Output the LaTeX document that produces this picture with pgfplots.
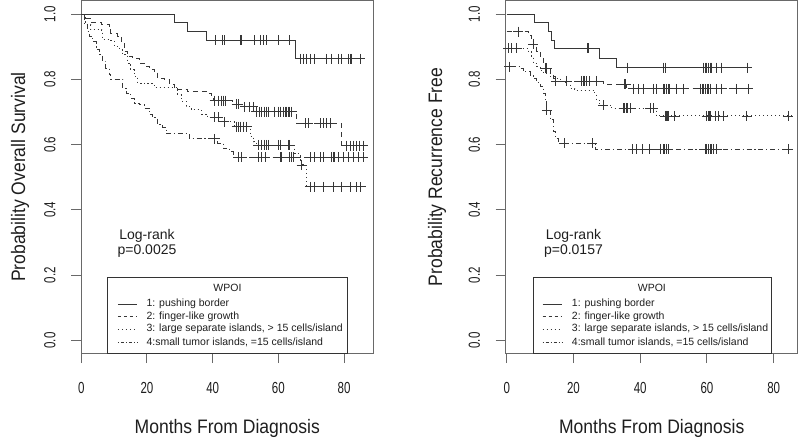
\documentclass[border=0pt]{standalone}
\usepackage{fontspec}
\setmainfont{Liberation Sans}
\newfontfamily\tickfont[FakeStretch=0.72]{Liberation Sans}
\newfontfamily\labfont[FakeStretch=0.9]{Liberation Sans}
\usepackage{pgfplots}
\pgfplotsset{compat=1.18}
\definecolor{ln}{RGB}{55,55,55}
\definecolor{bx}{RGB}{105,105,105}
\definecolor{tx}{RGB}{30,30,30}
\tikzset{
  lt1/.style={ln, line width=0.9pt, solid},
  lt2/.style={ln, line width=0.9pt, dash pattern=on 5pt off 4pt},
  lt3/.style={ln, line width=0.9pt, dash pattern=on 1.2pt off 2.8pt},
  lt4/.style={ln, line width=0.9pt, dash pattern=on 1.2pt off 2.8pt on 5pt off 2.8pt},
  cens/.style={only marks, mark=+, mark size=5pt, mark options={solid, line width=0.8pt, ln}},
}
\pgfplotsset{
  kmax/.style={
    scale only axis, width=292pt, height=352pt,
    ymin=-0.038, ymax=1.04,
    xtick={0,20,40,60,80}, ytick={0,0.2,0.4,0.6,0.8,1.0},
    xtick pos=bottom, ytick pos=left,
    tick align=outside, major tick length=10pt,
    axis line style={bx, line width=1pt},
    every tick/.style={bx, line width=1pt},
    /pgf/number format/assume math mode=true,
    tick label style={font=\tickfont\fontsize{16}{16}\selectfont, text=tx, inner sep=0pt},
    xticklabel shift=19pt,
    yticklabel shift=15.5pt,
    yticklabel style={rotate=90, anchor=south},
    yticklabel={\pgfmathprintnumber[fixed,fixed zerofill,precision=1]{\tick}},
    every axis x label/.style={at={(axis description cs:0.5,-0.213)}, anchor=center, font=\labfont\fontsize{19.5}{19.5}\selectfont, text=tx},
    every axis y label/.style={rotate=90, anchor=center, font=\labfont\fontsize{19.5}{19.5}\selectfont, text=tx},
    xlabel={Months From Diagnosis},
  }
}
\begin{document}
\begin{tikzpicture}[x=1pt,y=1pt]
\useasboundingbox (0,0) rectangle (800,439);
% ---------------- left panel ----------------
\begin{axis}[kmax, at={(81.3pt,86pt)}, anchor=south west, xmin=0, xmax=88.9,
  ylabel={Probability Overall Survival},
  every axis y label/.append style={at={(axis description cs:-0.21,0.5)}}]
\addplot[lt1, const plot] coordinates {(0,1.0) (28.3,0.974) (32.2,0.948) (38.1,0.920) (65.3,0.863) (85.4,0.863)};
\addplot[cens] coordinates {(40.9,0.920) (43.0,0.920) (43.7,0.920) (48.3,0.920) (48.6,0.920) (52.8,0.920) (54.4,0.920) (55.4,0.920) (56.4,0.920) (59.9,0.920) (63.5,0.920)
 (66.6,0.863) (67.6,0.863) (68.6,0.863) (69.6,0.863) (71.1,0.863) (74.7,0.863) (76.2,0.863) (78.2,0.863) (79.2,0.863) (81.3,0.863) (81.8,0.863) (82.3,0.863) (84.9,0.863)};
\addplot[lt2, const plot] coordinates {(0,1) (0.9,0.988) (2.9,0.975) (6,0.968) (8.5,0.957) (9,0.942) (11.1,0.932) (12.1,0.916) (13.1,0.885) (14.1,0.870) (15.6,0.865) (17.7,0.850) (19.2,0.840) (20.7,0.830) (22.2,0.824) (23.3,0.804) (25.3,0.799) (26.8,0.784) (28.3,0.774) (29.4,0.768) (32.4,0.763) (38.1,0.757) (39.6,0.742) (40.1,0.735) (46,0.724) (48.8,0.716) (52.8,0.701) (65.5,0.665) (79.1,0.597) (86.9,0.597)};
\addplot[cens] coordinates {(40.6,0.735) (41.7,0.735) (42.7,0.735) (43.4,0.735) (44.0,0.735) (47.3,0.724) (47.8,0.724) (49.8,0.716) (51.3,0.716) (52.3,0.716)
 (53.3,0.701) (54.3,0.701) (54.8,0.701) (55.8,0.701) (56.4,0.701) (56.9,0.701) (58.9,0.701) (59.9,0.701) (60.5,0.701) (61.5,0.701) (62.0,0.701) (62.5,0.701) (63.0,0.701) (63.5,0.701) (64.0,0.701)
 (68.1,0.665) (69.1,0.665) (72.7,0.665) (73.7,0.665) (74.7,0.665) (75.7,0.665)
 (80.8,0.597) (81.8,0.597) (82.8,0.597) (83.8,0.597) (84.8,0.597) (85.9,0.597)};
\addplot[lt3, const plot] coordinates {(0,1) (1.4,0.967) (2.9,0.952) (6.2,0.947) (6.5,0.921) (9.0,0.918) (10.1,0.901) (11.6,0.891) (12.6,0.875) (14.1,0.850) (15.1,0.829) (16.2,0.809) (17.2,0.789) (19.2,0.786) (22.2,0.774) (29.4,0.753) (30.4,0.733) (31.9,0.717) (33.4,0.707) (36.5,0.694) (38.5,0.684) (43.0,0.670) (46.5,0.655) (51.5,0.624) (52.5,0.609) (53.3,0.599) (65.0,0.573) (66.6,0.553) (67.1,0.538) (68.5,0.471) (86.4,0.471)};
\addplot[cens] coordinates {(40.6,0.684) (41.7,0.684) (43.5,0.670) (47.3,0.655) (47.8,0.655) (48.3,0.655) (49.3,0.655) (50.3,0.655)
 (53.8,0.599) (54.8,0.599) (55.8,0.599) (56.4,0.599) (56.9,0.599) (60.0,0.599) (60.5,0.599) (63.0,0.599) (63.5,0.599)
 (67.1,0.538) (69.6,0.471) (71.1,0.471) (73.7,0.471) (76.7,0.471) (79.3,0.471) (81.8,0.471) (83.8,0.471) (84.9,0.471)};
\addplot[lt4, const plot] coordinates {(0,1) (0.9,0.972) (1.9,0.947) (2.4,0.932) (3.4,0.916) (4.5,0.891) (5.5,0.875) (6.5,0.855) (7.5,0.834) (8.5,0.814) (9.0,0.801) (12.6,0.773) (13.6,0.758) (15.1,0.743) (16.2,0.727) (17.7,0.722) (19.2,0.712) (20.7,0.692) (21.7,0.682) (23.3,0.661) (24.8,0.653) (25.8,0.633) (32.9,0.618) (41.5,0.604) (43.2,0.589) (45.2,0.579) (46.2,0.562) (87.4,0.562)};
\addplot[cens] coordinates {(40.6,0.618) (47.8,0.562) (48.8,0.562) (53.8,0.562) (54.9,0.562) (55.9,0.562) (60.5,0.562) (61.0,0.562) (63.5,0.562) (64.0,0.562) (64.5,0.562) (69.6,0.562) (71.1,0.562) (72.7,0.562) (73.7,0.562) (76.2,0.562) (76.7,0.562) (77.2,0.562) (78.2,0.562) (79.8,0.562) (81.3,0.562) (82.8,0.562) (84.3,0.562) (85.9,0.562)};
\node[align=center, text=tx, font=\fontsize{14}{15.3}\selectfont] at (axis cs:20,0.298) {Log-rank\\p=0.0025};
\draw[black!80, line width=0.8pt] (axis cs:8.0,-0.038) rectangle (axis cs:80.9,0.193);
\node[text=tx, font=\fontsize{10.5}{10.5}\selectfont] at (axis cs:44.5,0.162) {WPOI};
\draw[lt1] (axis cs:11.1,0.112) -- (axis cs:16.9,0.112);
\draw[lt2, dash pattern=on 3pt off 3pt] (axis cs:11.1,0.0735) -- (axis cs:16.9,0.0735);
\draw[lt3] (axis cs:11.1,0.035) -- (axis cs:16.9,0.035);
\draw[lt4, dash pattern=on 1pt off 2pt on 3pt off 2pt] (axis cs:11.1,-0.005) -- (axis cs:16.9,-0.005);
\begin{scope}[every node/.style={anchor=west, text=tx, font=\fontsize{10.5}{10.5}\selectfont, inner sep=0pt}]
\node at (axis cs:19.8,0.112) {1: pushing border};
\node at (axis cs:19.8,0.0735) {2: finger-like growth};
\node at (axis cs:19.8,0.035) {3: large separate islands, > 15 cells/island};
\node at (axis cs:19.8,-0.005) {4:small tumor islands, =15 cells/island};
\end{scope}
\end{axis}
% ---------------- right panel ----------------
\begin{axis}[kmax, at={(505.7pt,86pt)}, anchor=south west, xmin=-0.3, xmax=87.2,
  ylabel={Probability Recurrence Free},
  every axis y label/.append style={at={(axis description cs:-0.235,0.5)}}]
\addplot[lt1, const plot] coordinates {(0,1) (8.2,0.973) (12.5,0.948) (13.5,0.920) (14.3,0.895) (27.9,0.864) (32.9,0.836) (73.4,0.836)};
\addplot[cens] coordinates {(24.3,0.895) (24.6,0.895) (36.2,0.836) (47.1,0.836) (47.7,0.836) (58.9,0.836) (59.4,0.836) (59.9,0.836) (60.4,0.836) (60.9,0.836) (61.4,0.836) (62.9,0.836) (64.4,0.836) (72.1,0.836)};
\addplot[lt2, const plot] coordinates {(0,0.946) (6.5,0.936) (7.5,0.915) (8.0,0.908) (9.0,0.885) (10.0,0.869) (11.0,0.849) (11.5,0.834) (13.0,0.818) (14.0,0.803) (14.5,0.795) (28.9,0.785) (36.0,0.771) (73.9,0.771)};
\addplot[cens] coordinates {(3.5,0.946) (8.0,0.908) (11.6,0.834) (11.8,0.834) (12.0,0.834) (14.7,0.795) (18.0,0.795) (22.4,0.795) (22.9,0.795) (23.4,0.795) (23.9,0.795) (24.9,0.795) (26.9,0.795)
 (35.2,0.785) (35.4,0.785) (35.6,0.785)
 (37.9,0.771) (39.4,0.771) (40.9,0.771) (43.9,0.771) (44.9,0.771) (46.9,0.771) (47.4,0.771) (47.9,0.771) (48.4,0.771) (48.9,0.771) (50.9,0.771) (52.9,0.771) (58.0,0.771) (58.5,0.771) (59.0,0.771) (59.5,0.771) (60.0,0.771) (60.5,0.771) (61.0,0.771) (62.9,0.771) (64.4,0.771) (68.9,0.771) (72.4,0.771)};
\addplot[lt3, const plot] coordinates {(0,0.895) (6.5,0.885) (7.5,0.869) (8.0,0.849) (9.0,0.839) (10.0,0.828) (11.0,0.818) (13.0,0.808) (14.5,0.803) (16.0,0.793) (17.5,0.783) (19.0,0.772) (20.4,0.766) (26.4,0.755) (26.9,0.736) (27.9,0.721) (31.5,0.711) (44.9,0.688) (85.3,0.688)};
\addplot[cens] coordinates {(0.5,0.895) (1.5,0.895) (3.0,0.895) (29.0,0.721) (35.0,0.711) (35.4,0.711) (35.8,0.711) (36.2,0.711) (37.0,0.711) (43.0,0.711) (43.9,0.711)
 (47.5,0.688) (47.8,0.688) (48.1,0.688) (48.4,0.688) (50.4,0.688) (59.9,0.688) (60.3,0.688) (60.7,0.688) (61.1,0.688) (62.4,0.688) (63.4,0.688) (64.9,0.688) (71.9,0.688) (84.3,0.688)};
\addplot[lt4, const plot] coordinates {(0,0.839) (4.0,0.833) (5.0,0.823) (7.0,0.813) (8.0,0.803) (9.0,0.790) (10.0,0.777) (11.0,0.757) (11.5,0.736) (12.0,0.706) (13.0,0.676) (14.0,0.640) (14.5,0.619) (15.5,0.605) (26.5,0.586) (85.3,0.586)};
\addplot[cens] coordinates {(0.8,0.839) (12.0,0.706) (17.2,0.605) (25.6,0.605) (37.7,0.586) (38.9,0.586) (40.7,0.586) (42.9,0.586) (46.2,0.586) (46.9,0.586) (47.4,0.586) (47.9,0.586) (48.4,0.586) (59.4,0.586) (59.9,0.586) (60.4,0.586) (60.9,0.586) (61.4,0.586) (61.9,0.586) (62.9,0.586) (84.3,0.586)};
\node[align=center, text=tx, font=\fontsize{14}{15.3}\selectfont] at (axis cs:20,0.298) {Log-rank\\p=0.0157};
\draw[black!80, line width=0.8pt] (axis cs:7.9,-0.038) rectangle (axis cs:79.4,0.193);
\node[text=tx, font=\fontsize{10.5}{10.5}\selectfont] at (axis cs:43.5,0.162) {WPOI};
\draw[lt1] (axis cs:10.8,0.112) -- (axis cs:16.5,0.112);
\draw[lt2, dash pattern=on 3pt off 3pt] (axis cs:10.8,0.0735) -- (axis cs:16.5,0.0735);
\draw[lt3] (axis cs:10.8,0.035) -- (axis cs:16.5,0.035);
\draw[lt4, dash pattern=on 1pt off 2pt on 3pt off 2pt] (axis cs:10.8,-0.005) -- (axis cs:16.5,-0.005);
\begin{scope}[every node/.style={anchor=west, text=tx, font=\fontsize{10.5}{10.5}\selectfont, inner sep=0pt}]
\node at (axis cs:19.5,0.112) {1: pushing border};
\node at (axis cs:19.5,0.0735) {2: finger-like growth};
\node at (axis cs:19.5,0.035) {3: large separate islands, > 15 cells/island};
\node at (axis cs:19.5,-0.005) {4:small tumor islands, =15 cells/island};
\end{scope}
\end{axis}
\end{tikzpicture}
\end{document}
